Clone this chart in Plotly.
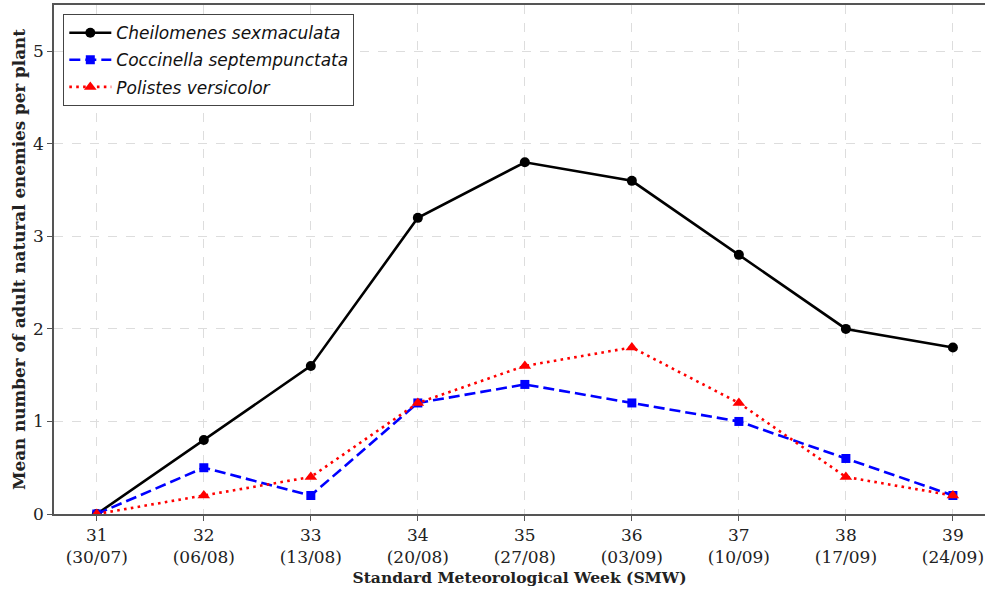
import plotly.graph_objects as go

weeks = [31, 32, 33, 34, 35, 36, 37, 38, 39]
dates = ["30/07", "06/08", "13/08", "20/08", "27/08", "03/09", "10/09", "17/09", "24/09"]
cheilomenes = [0, 0.8, 1.6, 3.2, 3.8, 3.6, 2.8, 2.0, 1.8]
coccinella = [0, 0.5, 0.2, 1.2, 1.4, 1.2, 1.0, 0.6, 0.2]
polistes = [0, 0.2, 0.4, 1.2, 1.6, 1.8, 1.2, 0.4, 0.2]

tick_text = [f"{w}<br>({d})" for w, d in zip(weeks, dates)]

fig = go.Figure()
fig.add_trace(go.Scatter(x=weeks, y=cheilomenes, mode="lines+markers",
                         name="Cheilomenes sexmaculata", legendgroup="a",
                         line=dict(color="black", width=2.6),
                         marker=dict(symbol="circle", size=10, color="black")))
fig.add_trace(go.Scatter(x=weeks, y=coccinella, mode="lines+markers",
                         name="Coccinella septempunctata", legendgroup="b",
                         line=dict(color="#0000ff", width=2.6, dash="11px,5px"),
                         marker=dict(symbol="square", size=9, color="#0000ff")))
fig.add_trace(go.Scatter(x=weeks, y=polistes, mode="lines+markers",
                         name="Polistes versicolor", legendgroup="c",
                         line=dict(color="#ff0000", width=2.6, dash="2.6px,4.3px"),
                         marker=dict(symbol="triangle-up", size=11, color="#ff0000")))

fig.update_layout(
    width=985, height=592,
    margin=dict(l=54, r=0, t=5, b=78),
    plot_bgcolor="white", paper_bgcolor="white",
    font=dict(family="DejaVu Serif", size=17, color="#222"),
    showlegend=True,
    legend=dict(x=0.01, y=0.982, xanchor="left", yanchor="top",
                bgcolor="white", bordercolor="#444", borderwidth=1,
                font=dict(family="DejaVu Sans", size=17, color="#111", style="italic"),
                traceorder="grouped", tracegroupgap=2, itemwidth=42),
    xaxis=dict(range=[30.6, 39.3], tickmode="array", tickvals=weeks, ticktext=tick_text,
               showgrid=True, gridcolor="#dddddd", griddash="dash", gridwidth=1,
               showline=True, linecolor="#555", linewidth=1.5, mirror=True,
               ticks="outside", tickcolor="#555", ticklen=5, zeroline=False,
               automargin=False,
               title=dict(text="<b>Standard Meteorological Week (SMW)</b>",
                          font=dict(family="DejaVu Serif", size=15.5, color="#222"), standoff=6)),
    yaxis=dict(range=[0, 5.5], tickvals=[0, 1, 2, 3, 4, 5],
               showgrid=True, gridcolor="#dddddd", griddash="dash", gridwidth=1,
               showline=True, linecolor="#555", linewidth=1.5,
               ticks="outside", tickcolor="#555", ticklen=5, zeroline=False,
               automargin=False,
               title=dict(text="<b>Mean number of adult natural enemies per plant</b>",
                          font=dict(family="DejaVu Serif", size=16.8, color="#222"), standoff=3)),
)

fig.write_html("out.html", config={"displayModeBar": False},
               post_script="document.body.style.margin='0';")
